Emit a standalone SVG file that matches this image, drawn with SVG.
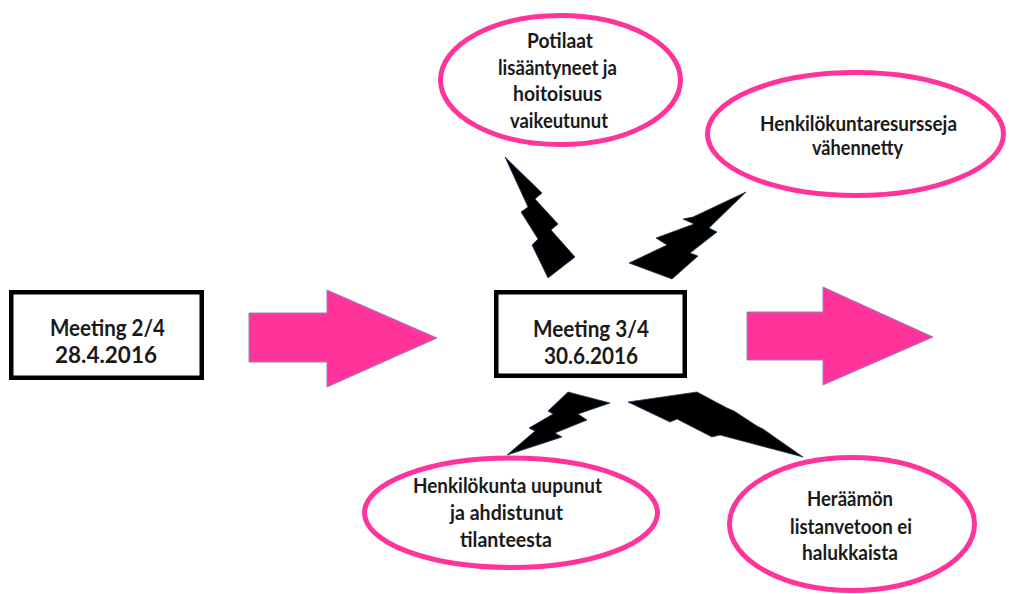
<svg xmlns="http://www.w3.org/2000/svg" width="1009" height="594" viewBox="0 0 1009 594">
  <style>
    .box { fill: #ffffff; stroke: #000000; stroke-width: 4.5; }
    .ell { fill: #ffffff; stroke: #FF3399; stroke-width: 5; }
    .arrow { fill: #FF3399; stroke: #8C84C4; stroke-width: 1; }
    .bolt { fill: #000000; stroke: #1E3A5A; stroke-width: 0.8; stroke-linejoin: miter; }
    .t { font-family: "Lato", "Open Sans", "Liberation Sans", sans-serif; font-weight: bold; fill: #1a1a1a; text-anchor: middle; }
    .tb { font-size: 23px; }
    .te { font-size: 21px; }
    .tr { font-size: 20px; }
    .ts { font-size: 20px; }
  </style>

  <g id="connectors">
    <polygon id="arrow-left" class="arrow" points="249,313 327,313 327,290 437,338 327,387 327,362 249,362"/>
    <polygon id="arrow-right" class="arrow" points="747,312 823,312 823,287 933,337 823,385 823,360 747,360"/>
    <polygon id="bolt-top-left" class="bolt" points="505,157 542,193 535,199 558,224 551,230 575,257 548,278 532,245 538,239 521,212 528,207"/>
    <polygon id="bolt-top-right" class="bolt" points="746,192 693,217 683,219 694,224 656,238 667,245 629,263 672,279 698,256 690,253 717,232 709,228"/>
    <polygon id="bolt-bottom-left" class="bolt" points="568,392 610,403 578,414 587,420 555,433 562,437 507,455 535,431 529,428 553,414 548,411"/>
    <polygon id="bolt-bottom-right" class="bolt" points="628,402 697,392 727,408 734,411 757,426 763,429 803,457 720,435 712,437 677,419 670,422"/>
  </g>

  <g id="node-meeting-2">
    <rect class="box" x="11.25" y="292.25" width="190.5" height="85.5"/>
    <text class="t tb"><tspan x="107.5" y="336" textLength="115" lengthAdjust="spacingAndGlyphs">Meeting 2/4</tspan><tspan x="106" y="363" textLength="102" lengthAdjust="spacingAndGlyphs">28.4.2016</tspan></text>
  </g>

  <g id="node-meeting-3">
    <rect class="box" x="496.25" y="292.25" width="188.5" height="83.5"/>
    <text class="t tb"><tspan x="591" y="337" textLength="116" lengthAdjust="spacingAndGlyphs">Meeting 3/4</tspan><tspan x="591" y="364" textLength="94" lengthAdjust="spacingAndGlyphs">30.6.2016</tspan></text>
  </g>

  <g id="node-potilaat">
    <ellipse class="ell" cx="560.5" cy="80" rx="120" ry="64.5"/>
    <text class="t te"><tspan x="560" y="48" textLength="66" lengthAdjust="spacingAndGlyphs">Potilaat</tspan><tspan x="557.5" y="74.5" textLength="119" lengthAdjust="spacingAndGlyphs">lisääntyneet ja</tspan><tspan x="557.5" y="101" textLength="89" lengthAdjust="spacingAndGlyphs">hoitoisuus</tspan><tspan x="559" y="127.5" textLength="98" lengthAdjust="spacingAndGlyphs">vaikeutunut</tspan></text>
  </g>

  <g id="node-henkilokuntaresursseja">
    <ellipse class="ell" cx="855.5" cy="134" rx="148" ry="61.5"/>
    <text class="t tr"><tspan x="858.5" y="131" textLength="197" lengthAdjust="spacingAndGlyphs">Henkilökuntaresursseja</tspan><tspan x="857.5" y="155" textLength="91" lengthAdjust="spacingAndGlyphs">vähennetty</tspan></text>
  </g>

  <g id="node-henkilokunta-uupunut">
    <ellipse class="ell" cx="511" cy="512.75" rx="146.5" ry="54.75"/>
    <text class="t ts"><tspan x="507.5" y="493" textLength="189" lengthAdjust="spacingAndGlyphs">Henkilökunta uupunut</tspan><tspan x="506.5" y="519.5" textLength="113" lengthAdjust="spacingAndGlyphs">ja ahdistunut</tspan><tspan x="506" y="547" textLength="92" lengthAdjust="spacingAndGlyphs">tilanteesta</tspan></text>
  </g>

  <g id="node-heraamon">
    <ellipse class="ell" cx="852" cy="524" rx="122.5" ry="66.5"/>
    <text class="t ts"><tspan x="850" y="506" textLength="86" lengthAdjust="spacingAndGlyphs">Heräämön</tspan><tspan x="851" y="534" textLength="122" lengthAdjust="spacingAndGlyphs">listanvetoon ei</tspan><tspan x="850" y="560" textLength="96" lengthAdjust="spacingAndGlyphs">halukkaista</tspan></text>
  </g>
</svg>
